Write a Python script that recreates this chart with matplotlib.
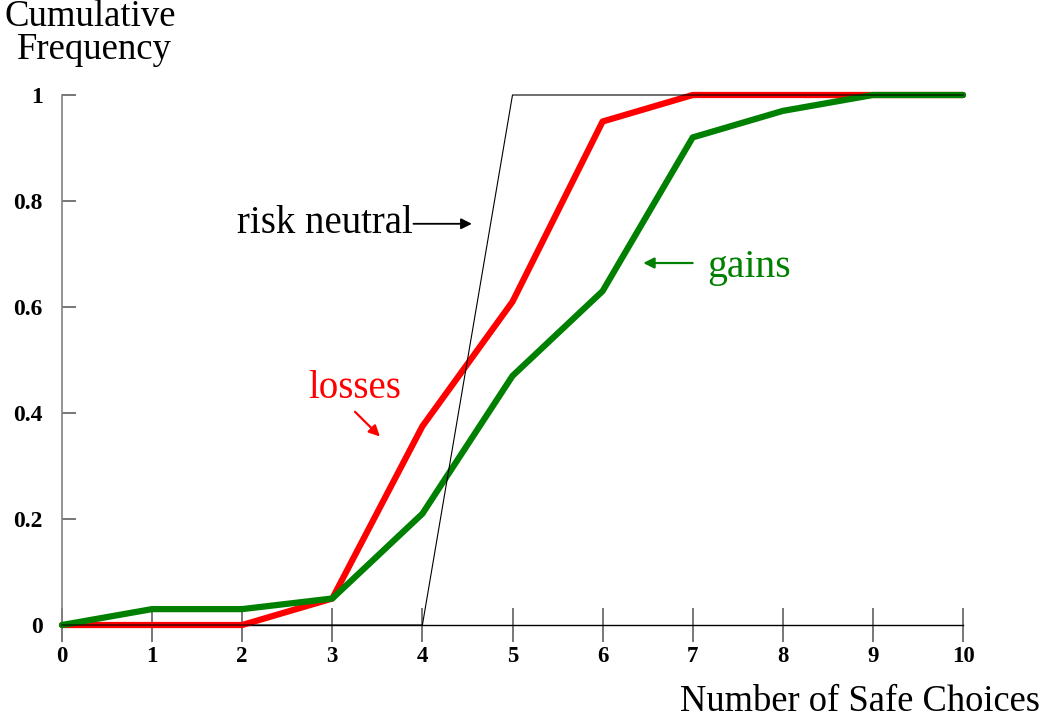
import matplotlib
matplotlib.use("Agg")
import matplotlib.pyplot as plt

choices = [0, 1, 2, 3, 4, 5, 6, 7, 8, 9, 10]
losses = [0, 0, 0, 0.05, 0.375, 0.61, 0.95, 1, 1, 1, 1]
gains = [0, 0.03, 0.03, 0.05, 0.21, 0.47, 0.63, 0.92, 0.97, 1, 1]
risk_neutral = [0, 0, 0, 0, 0, 1, 1, 1, 1, 1, 1]
yticks = [0, 0.2, 0.4, 0.6, 0.8, 1]
ytick_labels = ["0", "0.2", "0.4", "0.6", "0.8", "1"]
xtick_labels = [str(c) for c in choices]

plt.rcParams['font.family'] = ['Liberation Serif', 'DejaVu Serif']

W, H = 1044, 719
fig = plt.figure(figsize=(W / 100, H / 100), dpi=100)
x0, x1, y0, y1 = 62, 963, 95, 625
ax = fig.add_axes([x0 / W, 1 - y1 / H, (x1 - x0) / W, (y1 - y0) / H])
ax.set_xlim(0, 10)
ax.set_ylim(0, 1)

ax.plot(choices, losses, color='#ff0000', lw=4.5, clip_on=False, solid_capstyle='round', zorder=3)
ax.plot(choices, gains, color='#008000', lw=4.5, clip_on=False, solid_capstyle='round', zorder=4)
ax.plot(choices, risk_neutral, color='black', lw=0.8, clip_on=False, zorder=5)

for s in ['top', 'right']:
    ax.spines[s].set_visible(False)
ax.spines['left'].set_color('#808080')
ax.spines['left'].set_linewidth(1.2)
ax.spines['bottom'].set_color('black')
ax.spines['bottom'].set_linewidth(1.0)

ax.set_xticks(choices)
ax.set_xticklabels(xtick_labels, fontsize=16.5, fontweight='bold')
ax.set_yticks(yticks)
ax.set_yticklabels(ytick_labels, fontsize=17, fontweight='bold')
ax.tick_params(axis='x', direction='inout', length=24, width=1.2, color='#606060', pad=3)
ax.tick_params(axis='y', direction='in', length=10, width=1.2, color='#606060', pad=14)

fig.text(90 / W, 1 - 17 / H, "Cumulative", fontsize=26.5, ha='center', va='center')
fig.text(94 / W, 1 - 50 / H, "Frequency", fontsize=26.5, ha='center', va='center')
fig.text(1040 / W, 1 - 702 / H, "Number of Safe Choices", fontsize=26.3, ha='right', va='center')

ax.text(1.94, 0.757, "risk neutral", fontsize=28, color='black', ha='left', va='center', zorder=6)
ax.annotate("", xy=(4.58, 0.757), xytext=(3.87, 0.757),
            arrowprops=dict(arrowstyle='-|>', color='black', lw=1.3, mutation_scale=16))
ax.text(2.73, 0.447, "losses", fontsize=28, color='#ff0000', ha='left', va='center')
ax.annotate("", xy=(3.55, 0.352), xytext=(3.23, 0.406),
            arrowprops=dict(arrowstyle='-|>', color='#ff0000', lw=1.6, mutation_scale=16))
ax.text(7.16, 0.674, "gains", fontsize=28.5, color='#008000', ha='left', va='center')
ax.annotate("", xy=(6.42, 0.683), xytext=(7.03, 0.683),
            arrowprops=dict(arrowstyle='-|>', color='#008000', lw=1.6, mutation_scale=16))

fig.savefig("out.png", dpi=100)
